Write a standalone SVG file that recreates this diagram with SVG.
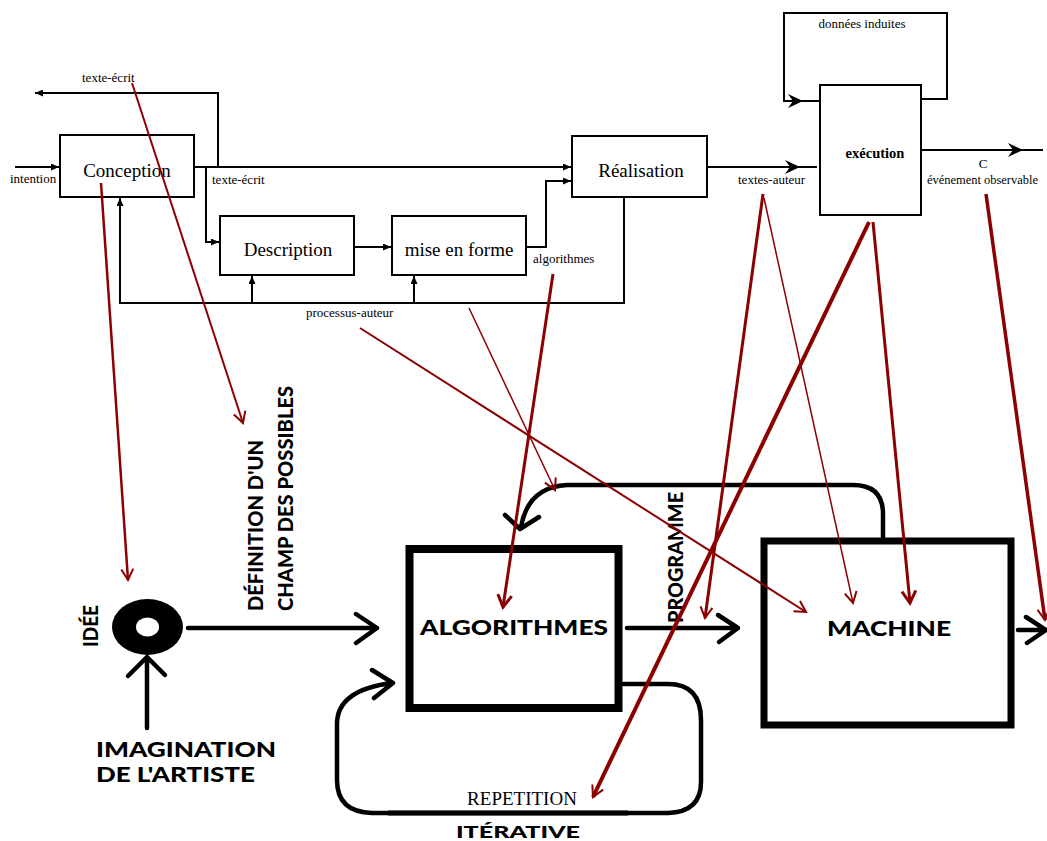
<svg xmlns="http://www.w3.org/2000/svg" width="1047" height="841" viewBox="0 0 1047 841">
<style>
.bx{fill:#fff;stroke:#000;stroke-width:2}
.ln{fill:none;stroke:#000;stroke-width:2}
.t{font-family:"Liberation Serif","Times New Roman",serif;fill:#000}
.lb{font-size:13px}
.big{font-size:19px}
.bk{fill:none;stroke:#000;stroke-width:4.5;stroke-linecap:round;stroke-linejoin:round}
.s{font-family:"Lato","Open Sans","Liberation Sans",sans-serif;font-weight:900;fill:#000}
.r{fill:none;stroke:#8b0000}
</style>
<defs>
<marker id="ah" markerUnits="userSpaceOnUse" markerWidth="8" markerHeight="7" refX="8" refY="3.5" orient="auto">
<path d="M0,0 L8,3.5 L0,7 z" fill="#000"/>
</marker>
<marker id="st" markerUnits="userSpaceOnUse" markerWidth="16" markerHeight="14" refX="15" refY="7" orient="auto">
<path d="M0,0 L15,7 L0,14 L5,7 z" fill="#000"/>
</marker>
<marker id="ra" markerUnits="userSpaceOnUse" markerWidth="16" markerHeight="16" refX="13" refY="8" orient="auto">
<path d="M2,2 L13,8 L2,14" fill="none" stroke="#8b0000" stroke-width="2"/>
</marker>
<marker id="rb" markerUnits="userSpaceOnUse" markerWidth="18" markerHeight="18" refX="14" refY="9" orient="auto">
<path d="M2,2 L14,9 L2,16" fill="none" stroke="#8b0000" stroke-width="3"/>
</marker>
</defs>

<g id="connectors">
<path class="ln" d="M15,167 H59" marker-end="url(#ah)"/>
<path class="ln" d="M218,167 V93 H35" marker-end="url(#ah)"/>
<path class="ln" d="M194,167 H571" marker-end="url(#ah)"/>
<path class="ln" d="M206,167 V242 H219" marker-end="url(#ah)"/>
<path class="ln" d="M354,247 H391" marker-end="url(#ah)"/>
<path class="ln" d="M526,247 H546 V181 H571" marker-end="url(#ah)"/>
<path class="ln" d="M624,197 V303 H120 V198" marker-end="url(#ah)"/>
<path class="ln" d="M252,303 V276" marker-end="url(#ah)"/>
<path class="ln" d="M414,303 V276" marker-end="url(#ah)"/>
<path class="ln" d="M707,167 H800" marker-end="url(#st)"/>
<path class="ln" d="M800,167 H817"/>
<path class="ln" d="M921,99 H947 V13 H784 V101 H803" marker-end="url(#st)"/>
<path class="ln" d="M803,101 H820"/>
<path class="ln" d="M921,150 H1023" marker-end="url(#st)"/>
<path class="ln" d="M1023,150 H1043"/>

<path class="bk" d="M188,628 H377 M356,614 L377,628 L356,643"/>
<path class="bk" d="M147,728 V658 M128,676 L147,657 L165,675"/>
<path class="bk" d="M627,628 H738 M718,615 L738,628 L719,642"/>
<path class="bk" d="M1018,630 H1046 M1026,617 L1046,630 L1027,643"/>
<path class="bk" d="M883,538 V514 Q883,485 853,485 L567,485 Q528,487 521,527 M505,515 L520,529 L539,517"/>
<path class="bk" d="M623,684 H668 Q701,684 701,720 V782 Q701,812 668,813 H372 Q337,812 337,780 V724 Q337,690 392,683 M372,670 L393,683 L374,698"/>
<path d="M388,813 H628" stroke="#000" stroke-width="5" fill="none"/>
</g>

<g id="conception">
<rect class="bx" x="60" y="135" width="134" height="62"/>
<text class="t big" x="127" y="177" text-anchor="middle">Conception</text>
</g>
<g id="description">
<rect class="bx" x="220" y="216" width="134" height="59"/>
<text class="t big" x="288" y="256" text-anchor="middle">Description</text>
</g>
<g id="mise-en-forme">
<rect class="bx" x="392" y="216" width="134" height="59"/>
<text class="t big" x="459" y="256" text-anchor="middle">mise en forme</text>
</g>
<g id="realisation">
<rect class="bx" x="572" y="136" width="135" height="61"/>
<text class="t big" x="641" y="177" text-anchor="middle">Réalisation</text>
</g>
<g id="execution">
<rect class="bx" x="820" y="85" width="101" height="130"/>
<text class="t" x="875" y="158" text-anchor="middle" font-size="14.5" font-weight="bold">exécution</text>
</g>

<g id="labels">
<text class="t lb" x="10" y="183">intention</text>
<text class="t lb" x="82" y="82">texte-écrit</text>
<text class="t lb" x="212" y="184">texte-écrit</text>
<text class="t lb" x="533" y="263">algorithmes</text>
<text class="t lb" x="306" y="317">processus-auteur</text>
<text class="t lb" x="862" y="28" text-anchor="middle">données induites</text>
<text class="t lb" x="738" y="184">textes-auteur</text>
<text class="t lb" x="983" y="168" text-anchor="middle">C</text>
<text class="t lb" x="927" y="184" textLength="111" lengthAdjust="spacingAndGlyphs">événement observable</text>
</g>

<g id="idee">
<ellipse cx="147.5" cy="627" rx="35.5" ry="28" fill="#000"/>
<ellipse cx="147.5" cy="627" rx="11.5" ry="9.5" fill="#fff"/>
<text class="s" transform="translate(98,647) rotate(-90)" font-size="21" textLength="42" lengthAdjust="spacingAndGlyphs">IDÉE</text>
</g>
<g id="imagination">
<text class="s" x="96" y="757" font-size="20" textLength="180" lengthAdjust="spacingAndGlyphs">IMAGINATION</text>
<text class="s" x="96" y="782" font-size="20" textLength="159" lengthAdjust="spacingAndGlyphs">DE L'ARTISTE</text>
</g>
<g id="definition">
<text class="s" transform="translate(263,611) rotate(-90)" font-size="21" textLength="171" lengthAdjust="spacingAndGlyphs">DÉFINITION D'UN</text>
<text class="s" transform="translate(293,611) rotate(-90)" font-size="21" textLength="225" lengthAdjust="spacingAndGlyphs">CHAMP DES POSSIBLES</text>
</g>
<g id="algorithmes">
<rect x="409.5" y="549" width="209" height="159" fill="none" stroke="#000" stroke-width="8"/>
<text class="s" x="420" y="635" font-size="21" textLength="188" lengthAdjust="spacingAndGlyphs">ALGORITHMES</text>
</g>
<g id="programme">
<text class="s" transform="translate(683,623) rotate(-90)" font-size="21" textLength="131" lengthAdjust="spacingAndGlyphs">PROGRAMME</text>
</g>
<g id="machine">
<rect x="764" y="541" width="247" height="184" fill="none" stroke="#000" stroke-width="7"/>
<text class="s" x="827" y="636" font-size="20" textLength="124" lengthAdjust="spacingAndGlyphs">MACHINE</text>
</g>
<g id="repetition">
<text class="t" x="522" y="805" font-size="19" text-anchor="middle">REPETITION</text>
<text class="s" x="456" y="838" font-size="17" textLength="124" lengthAdjust="spacingAndGlyphs">ITÉRATIVE</text>
</g>

<g id="red-connectors">
<line class="r" x1="101" y1="183" x2="128" y2="580" stroke-width="2.5" marker-end="url(#ra)"/>
<line class="r" x1="132" y1="83" x2="243" y2="423" stroke-width="2" marker-end="url(#ra)"/>
<line class="r" x1="360" y1="328" x2="806" y2="612" stroke-width="2" marker-end="url(#ra)"/>
<line class="r" x1="469" y1="308" x2="555" y2="490" stroke-width="1.5" marker-end="url(#ra)"/>
<line class="r" x1="553" y1="274" x2="503" y2="607" stroke-width="3" marker-end="url(#rb)"/>
<line class="r" x1="763" y1="194" x2="705" y2="618" stroke-width="3" marker-end="url(#ra)"/>
<line class="r" x1="764" y1="198" x2="853" y2="603" stroke-width="1.5" marker-end="url(#ra)"/>
<line class="r" x1="869" y1="222" x2="593" y2="797" stroke-width="4" marker-end="url(#ra)"/>
<line class="r" x1="873" y1="222" x2="910" y2="603" stroke-width="3" marker-end="url(#rb)"/>
<line class="r" x1="986" y1="194" x2="1045" y2="620" stroke-width="3.5" marker-end="url(#ra)"/>
</g>
</svg>
